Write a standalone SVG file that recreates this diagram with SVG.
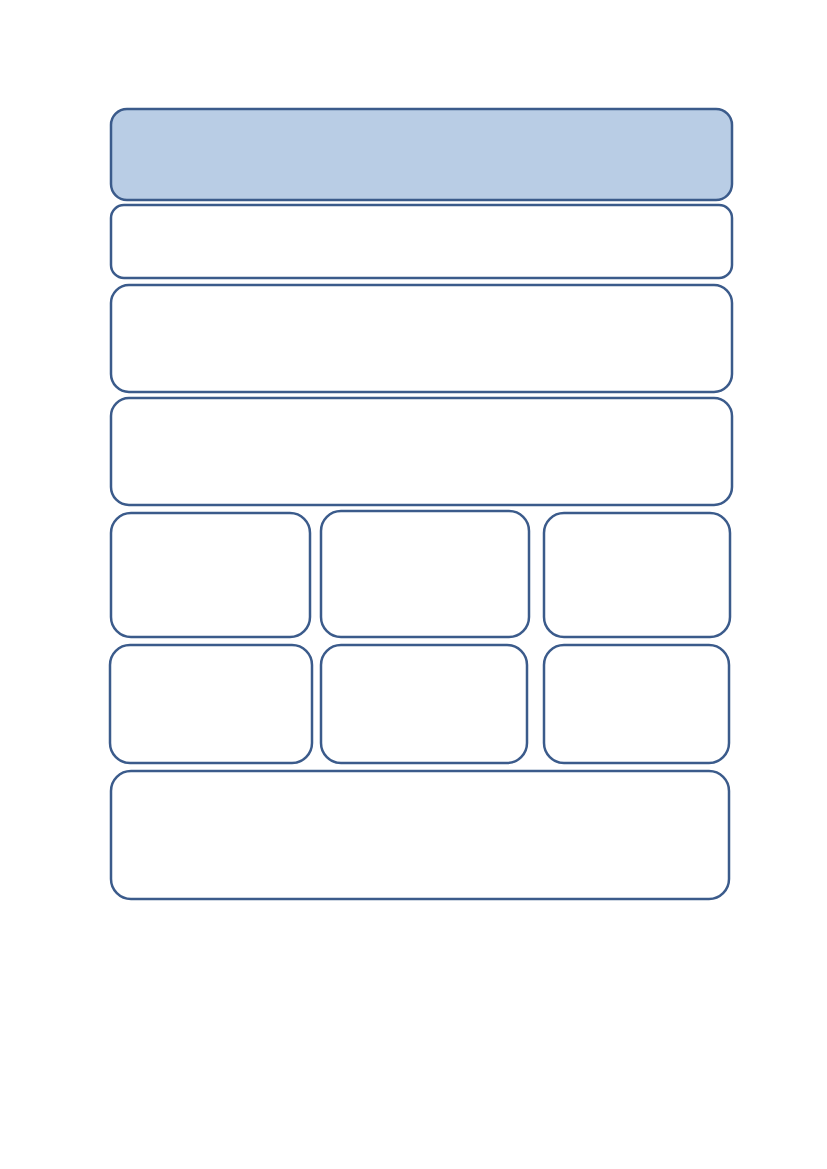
<svg xmlns="http://www.w3.org/2000/svg" width="827" height="1169" viewBox="0 0 827 1169">
<style>
.b{fill:#ffffff;stroke:#3b5b8b;stroke-width:2.5}
.h{fill:#b9cde5}
</style>
<rect width="827" height="1169" fill="#ffffff"/>
<g id="n1"><rect class="b h" x="111" y="109" width="621" height="91" rx="16"/></g>
<g id="n2"><rect class="b" x="111" y="205" width="621" height="73" rx="13"/></g>
<g id="n3"><rect class="b" x="111" y="285" width="621" height="107" rx="18"/></g>
<g id="n4"><rect class="b" x="111" y="398" width="621" height="107" rx="18"/></g>
<g id="n5"><rect class="b" x="111" y="513" width="199" height="124" rx="20"/></g>
<g id="n6"><rect class="b" x="321" y="511" width="208" height="126" rx="20"/></g>
<g id="n7"><rect class="b" x="544" y="513" width="186" height="124" rx="20"/></g>
<g id="n8"><rect class="b" x="110" y="645" width="202" height="118" rx="20"/></g>
<g id="n9"><rect class="b" x="321" y="645" width="206" height="118" rx="20"/></g>
<g id="n10"><rect class="b" x="544" y="645" width="185" height="118" rx="20"/></g>
<g id="n11"><rect class="b" x="111" y="771" width="618" height="128" rx="20"/></g>
<g id="connectors"/>
</svg>
